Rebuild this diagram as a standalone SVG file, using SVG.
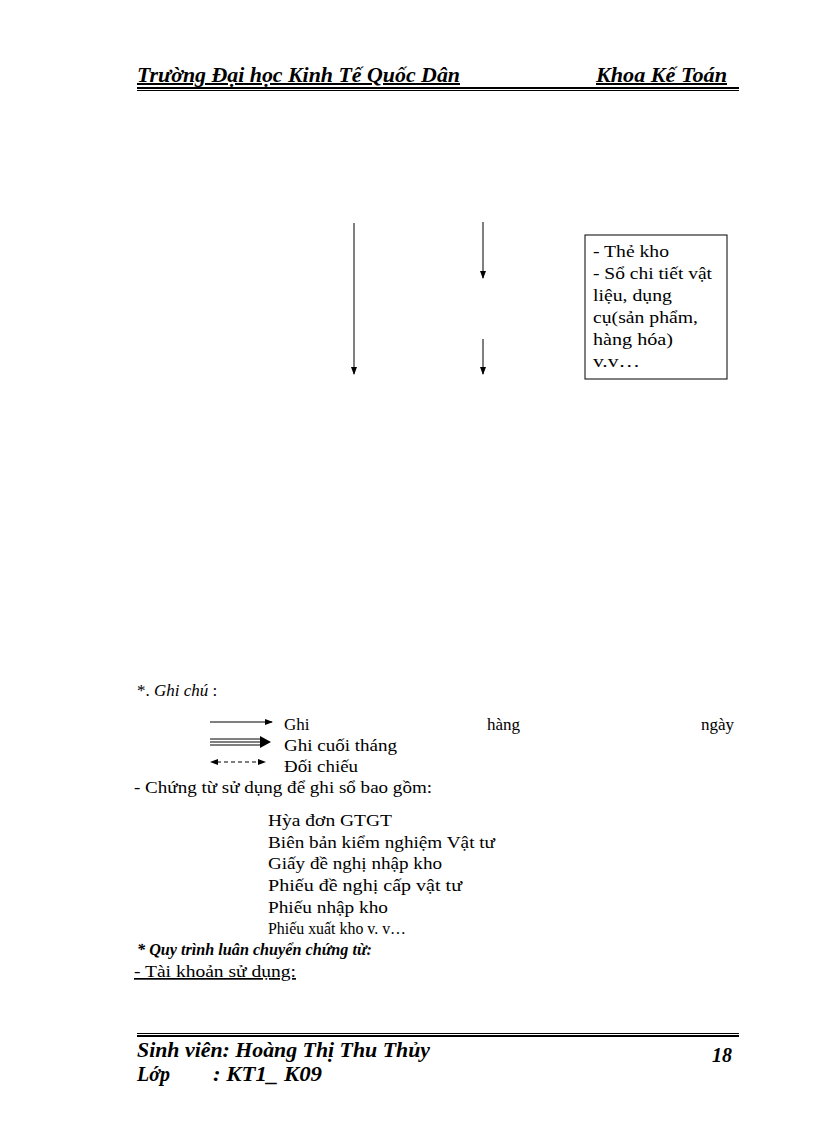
<svg xmlns="http://www.w3.org/2000/svg" width="816" height="1123" viewBox="0 0 816 1123">
<style>
text{font-family:"Liberation Serif",serif;font-size:17px;fill:#000}
.hd{font-style:italic;font-weight:bold;font-size:20px}
.ln{stroke:#000;stroke-width:1}
</style>
<defs>
<marker id="ah" markerWidth="8" markerHeight="8" refX="7" refY="4" orient="auto" markerUnits="userSpaceOnUse"><path d="M0,1 L8,4 L0,7 Z" fill="#000"/></marker>
<marker id="ahs" markerWidth="8" markerHeight="8" refX="1" refY="4" orient="auto-start-reverse" markerUnits="userSpaceOnUse"><path d="M0,1 L8,4 L0,7 Z" fill="#000"/></marker>
</defs>
<rect width="816" height="1123" fill="#fff"/>
<g id="header">
<text x="137" y="82" class="hd" text-decoration="underline" textLength="323" lengthAdjust="spacingAndGlyphs">Trường Đại học Kinh Tế Quốc Dân</text>
<text x="596" y="82" class="hd" text-decoration="underline" textLength="131" lengthAdjust="spacingAndGlyphs">Khoa Kế Toán</text>
<rect x="137" y="87" width="602" height="2"/><rect x="137" y="90" width="602" height="1"/>
</g>
<g id="connectors">
<line class="ln" x1="354" y1="223" x2="354" y2="374" marker-end="url(#ah)"/>
<line class="ln" x1="483" y1="222" x2="483" y2="278" marker-end="url(#ah)"/>
<line class="ln" x1="483" y1="339" x2="483" y2="374" marker-end="url(#ah)"/>
</g>
<g id="node-thekho">
<rect x="585" y="235" width="142" height="144" fill="#fff" stroke="#000"/>
<text x="593" y="257" textLength="76" lengthAdjust="spacingAndGlyphs">- Thẻ kho</text>
<text x="593" y="279" textLength="119" lengthAdjust="spacingAndGlyphs">- Sổ chi tiết vật</text>
<text x="593" y="301" textLength="79" lengthAdjust="spacingAndGlyphs">liệu,  dụng</text>
<text x="593" y="323" textLength="105" lengthAdjust="spacingAndGlyphs">cụ(sản phẩm,</text>
<text x="593" y="345" textLength="80" lengthAdjust="spacingAndGlyphs">hàng hóa)</text>
<text x="593" y="367" textLength="47" lengthAdjust="spacingAndGlyphs">v.v…</text>
</g>
<g id="legend">
<text x="137" y="696">*. <tspan font-style="italic">Ghi chú</tspan> :</text>
<line class="ln" x1="210" y1="722" x2="272" y2="722" marker-end="url(#ah)"/>
<line class="ln" x1="210" y1="739" x2="262" y2="739"/><line class="ln" x1="210" y1="742" x2="262" y2="742"/><line class="ln" x1="210" y1="745" x2="262" y2="745"/>
<path d="M260,736 L271,742 L260,748 Z"/>
<line class="ln" x1="217" y1="762" x2="265" y2="762" stroke-dasharray="4,3" marker-start="url(#ahs)" marker-end="url(#ah)"/>
<text x="284" y="730">Ghi</text><text x="487" y="730">hàng</text><text x="701" y="730">ngày</text>
<text x="284" y="751" textLength="113" lengthAdjust="spacingAndGlyphs">Ghi cuối tháng</text>
<text x="284" y="772" textLength="74" lengthAdjust="spacingAndGlyphs">Đối chiếu</text>
<text x="134" y="793" textLength="298" lengthAdjust="spacingAndGlyphs">- Chứng từ sử dụng để ghi sổ bao gồm:</text>
<text x="268" y="826" textLength="124" lengthAdjust="spacingAndGlyphs">Hỳa đơn GTGT</text>
<text x="268" y="848" textLength="227" lengthAdjust="spacingAndGlyphs">Biên bản kiểm nghiệm  Vật tư</text>
<text x="268" y="869" textLength="174" lengthAdjust="spacingAndGlyphs">Giấy đề nghị nhập kho</text>
<text x="268" y="891" textLength="194" lengthAdjust="spacingAndGlyphs">Phiếu đề nghị cấp vật tư</text>
<text x="268" y="913" textLength="120" lengthAdjust="spacingAndGlyphs">Phiếu nhập kho</text>
<text x="268" y="934" textLength="138" lengthAdjust="spacingAndGlyphs">Phiếu xuất kho v. v…</text>
<text x="137" y="955" font-style="italic" font-weight="bold" textLength="235" lengthAdjust="spacingAndGlyphs">* Quy trình luân chuyển chứng từ:</text>
<text x="134" y="977" text-decoration="underline" textLength="162" lengthAdjust="spacingAndGlyphs">- Tài khoản sử dụng:</text>
</g>
<g id="footer">
<rect x="137" y="1033" width="602" height="1"/><rect x="137" y="1035" width="602" height="2"/>
<text x="137" y="1057" class="hd" textLength="293" lengthAdjust="spacingAndGlyphs">Sinh viên: Hoàng Thị Thu Thủy</text>
<text x="712" y="1062" class="hd">18</text>
<text x="137" y="1081" class="hd">Lớp</text>
<text x="213" y="1081" class="hd" textLength="109" lengthAdjust="spacingAndGlyphs">: KT1_ K09</text>
</g>
</svg>
